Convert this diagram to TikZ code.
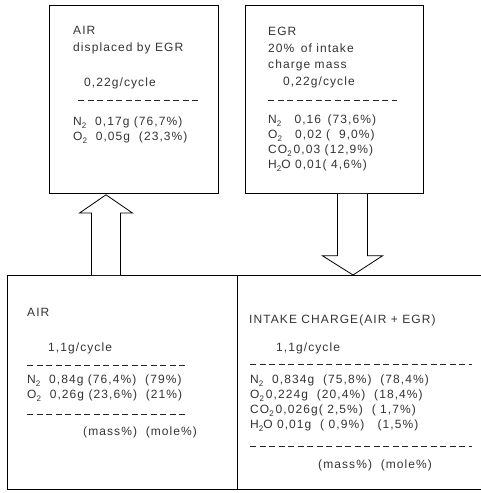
\documentclass[tikz,border=0pt]{standalone}
\usepackage{fontspec}
\setmainfont[LetterSpace=9]{Liberation Sans}
\usetikzlibrary{calc}
\newcommand\lowsub[1]{\raisebox{-0.5ex}{\fontsize{8}{8}\selectfont #1}}
\begin{document}
\begin{tikzpicture}[x=1pt,y=-1pt,
  txt/.style={anchor=west, inner sep=0pt, font=\fontsize{12}{12}\selectfont, text=black!80},
  box/.style={draw, line width=0.8pt, inner sep=0pt, anchor=north west},
  sep/.style={dash pattern=on 6pt off 3.5pt, line width=0.7pt, black!85},
  blockarrow/.style={draw, line width=0.8pt, line join=miter, fill=white}]
\useasboundingbox (0,0) rectangle (481,493);

% boxes
\node[box, minimum width=169pt, minimum height=188pt] (disp) at (49,5) {};
\node[box, minimum width=178pt, minimum height=188pt] (egr) at (245,5) {};
\node[box, minimum width=230pt, minimum height=214pt] (air) at (7,275) {};
\node[box, draw=none, minimum width=244pt, minimum height=214pt] (intake) at (237,275) {};
\draw[line width=0.8pt] (intake.north west) -- (intake.north east);
\draw[line width=0.8pt] (intake.south west) -- (intake.south east);

% block arrows
\coordinate (upbase) at ($(air.north west)+(99,0)$);
\coordinate (uptip) at ($(disp.south west)+(57,1)$);
\draw[blockarrow] ($(upbase)+(-14.5,0)$) -- ($(upbase)+(-14.5,-62)$) -- ($(upbase)+(-26.5,-62)$)
  -- (uptip) -- ($(upbase)+(26.5,-62)$) -- ($(upbase)+(14.5,-62)$) -- ($(upbase)+(14.5,0)$);
\coordinate (dnbase) at ($(egr.south west)+(107.5,0)$);
\coordinate (dntip) at ($(intake.north west)+(116,0)$);
\draw[blockarrow] ($(dnbase)+(-15,0)$) -- ($(dnbase)+(-15,62)$) -- ($(dnbase)+(-30,62)$)
  -- (dntip) -- ($(dnbase)+(30,62)$) -- ($(dnbase)+(15,62)$) -- ($(dnbase)+(15,0)$);

% top-left box text
\node[txt] (t1) at (73,30) {AIR};
\node[txt] (t2) at (73,48) {displaced by EGR};
\node[txt] (t3) at (84,83) {0,22g/cycle};
\coordinate (d1a) at (78,100); \coordinate (d1b) at (201,100);
\draw[sep] (d1a) -- (d1b);
\node[txt] (t4) at (73,123) {N\lowsub{2}\ \ 0,17g (76,7\%)};
\node[txt] (t5) at (73,138) {O\lowsub{2}\ \ 0,05g \ (23,3\%)};

% top-right box text
\node[txt] (e1) at (268,31) {EGR};
\node[txt] (e2) at (268,48) {20\% \,of intake};
\node[txt] (e3) at (268,65) {charge mass};
\node[txt] (e4) at (283,82) {0,22g/cycle};
\coordinate (d2a) at (268,100); \coordinate (d2b) at (397,100);
\draw[sep] (d2a) -- (d2b);
\node[txt] (e5) at (268,121) {N\lowsub{2}\ \ \ 0,16 \,(73,6\%)};
\node[txt] (e6) at (268,136) {O\lowsub{2}\ \ \ 0,02 ( \ 9,0\%)};
\node[txt] (e7) at (268,151) {CO\lowsub{2}\,0,03 (12,9\%)};
\node[txt] (e8) at (268,166) {H\lowsub{2}O 0,01( 4,6\%)};

% bottom-left text
\node[txt] (a1) at (27,312) {AIR};
\node[txt] (a2) at (48,348) {1,1g/cycle};
\coordinate (d3a) at (27,365); \coordinate (d3b) at (186,365);
\draw[sep] (d3a) -- (d3b);
\node[txt] (a3) at (27,381) {N\lowsub{2}\ \ 0,84g (76,4\%) \ (79\%)};
\node[txt] (a4) at (27,396) {O\lowsub{2}\ \ 0,26g (23,6\%) \ (21\%)};
\coordinate (d4a) at (27,414); \coordinate (d4b) at (186,414);
\draw[sep] (d4a) -- (d4b);
\node[txt] (a5) at (83,432) {(mass\%) \ (mole\%)};

% bottom-right text
\node[txt] (i1) at (249,320) {INTAKE CHARGE(AIR + EGR)};
\node[txt] (i2) at (276,348) {1,1g/cycle};
\coordinate (d5a) at (250,364); \coordinate (d5b) at (472,364);
\draw[sep] (d5a) -- (d5b);
\node[txt] (i3) at (250,381) {N\lowsub{2}\ \ 0,834g \ (75,8\%) \ (78,4\%)};
\node[txt] (i4) at (250,396) {O\lowsub{2}\,0,224g \ (20,4\%) \ (18,4\%)};
\node[txt] (i5) at (250,411) {CO\lowsub{2}\,0,026g( 2,5\%) \ ( 1,7\%)};
\node[txt] (i6) at (250,426) {H\lowsub{2}O 0,01g \ ( 0,9\%) \ \ (1,5\%)};
\coordinate (d6a) at (250,446); \coordinate (d6b) at (472,446);
\draw[sep] (d6a) -- (d6b);
\node[txt] (i7) at (318,465) {(mass\%) \ (mole\%)};
\end{tikzpicture}
\end{document}
